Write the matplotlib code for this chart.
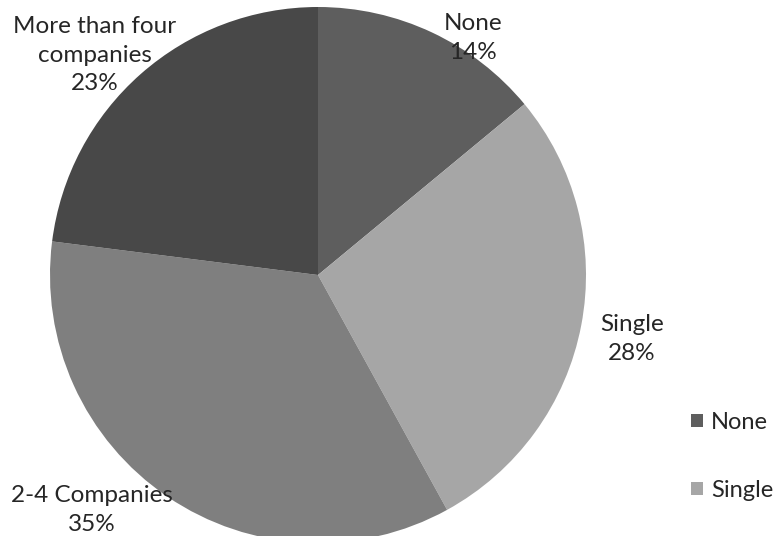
import matplotlib.pyplot as plt

categories = ["None", "Single", "2-4 Companies", "More than four\ncompanies"]
shares = [14, 28, 35, 23]
colors = ["#5e5e5e", "#a6a6a6", "#7f7f7f", "#484848"]

plt.rcParams['font.family'] = ['Lato', 'DejaVu Sans']

W, H = 781, 536
fig = plt.figure(figsize=(W / 100, H / 100), dpi=100)
ax = fig.add_axes([0, 0, 1, 1])

cx, cy, r = 318, H - 275, 268
wedges, _ = ax.pie(shares, colors=colors, startangle=90, counterclock=False,
                   center=(cx, cy), radius=r, frame=True,
                   wedgeprops=dict(linewidth=0))
ax.set_xlim(0, W)
ax.set_ylim(0, H)
ax.set_aspect('equal')
ax.axis('off')

# label positions (pixels from top-left)
label_pos = [(473, 38), (632, 339), (92, 510), (95, 55)]
for name, val, (x, y) in zip(categories, shares, label_pos):
    ax.text(x, H - y, f"{name}\n{val}%", ha='center', va='center',
            fontsize=17.5, color='#262626', linespacing=1.45)

leg = ax.legend(wedges[:2], categories[:2], loc='upper left',
                bbox_to_anchor=(679 / W, 1 - 400 / H), frameon=False,
                fontsize=17, handlelength=0.5, handleheight=0.5,
                labelspacing=2.0, handletextpad=0.35, borderpad=0)
for t in leg.get_texts():
    t.set_color('#262626')

fig.savefig("out.png", dpi=100)
